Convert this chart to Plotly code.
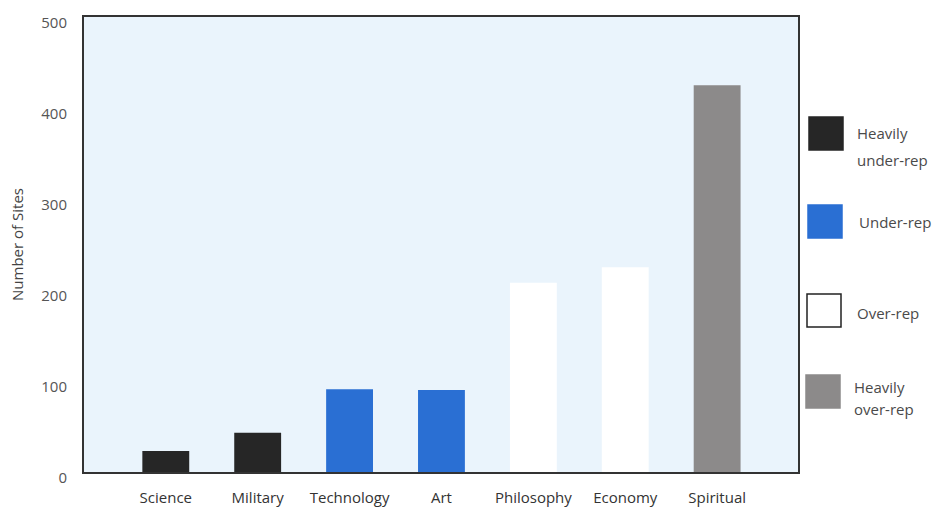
import plotly.graph_objects as go

categories = ["Science", "Military", "Technology", "Art", "Philosophy", "Economy", "Spiritual"]
values = [23, 43, 91, 90, 208, 225, 425]
groups = ["Heavily under-rep", "Heavily under-rep", "Under-rep", "Under-rep",
          "Over-rep", "Over-rep", "Heavily over-rep"]
group_names = ["Heavily under-rep", "Under-rep", "Over-rep", "Heavily over-rep"]
group_labels = ["Heavily<br>under-rep", "Under-rep", "Over-rep", "Heavily<br>over-rep"]
group_colors = {"Heavily under-rep": "#262626", "Under-rep": "#2a6fd3",
                "Over-rep": "#ffffff", "Heavily over-rep": "#8c8a8a"}
y_ticks = [0, 100, 200, 300, 400, 500]

W, H = 940, 512
L, R, T, B = 84, 798, 17, 472
FONT = "Open Sans"
TXT = "#4a4a4a"

fig = go.Figure()
fig.add_trace(go.Bar(
    x=categories, y=values,
    marker=dict(color=[group_colors[g] for g in groups], line=dict(width=0)),
    width=0.51, showlegend=False,
))

def pxx(x):
    return (x - L) / (R - L)

def pxy(y):
    return (B - y) / (B - T)

shapes = []
annotations = []
sq_tops = [117, 205, 294, 375]
sq_left = [809, 808, 807, 806]
line_y = [[133, 160], [222], [313], [387, 409]]
text_x = [855, 857, 855, 852]
for i, g in enumerate(group_names):
    x0, y0 = sq_left[i], sq_tops[i]
    shapes.append(dict(type="rect", xref="paper", yref="paper",
                       x0=pxx(x0), x1=pxx(x0 + 34), y0=pxy(y0 + 33), y1=pxy(y0),
                       fillcolor=group_colors[g],
                       line=dict(color="#222222" if g == "Over-rep" else group_colors[g], width=1.5)))
    for txt, ly in zip(group_labels[i].split("<br>"), line_y[i]):
        annotations.append(dict(xref="paper", yref="paper", x=pxx(text_x[i]), y=pxy(ly),
                                xanchor="left", yanchor="middle", text=txt, showarrow=False,
                                font=dict(family=FONT, size=15, color=TXT)))

fig.update_layout(
    width=W, height=H,
    margin=dict(l=L, r=W - R, t=T, b=H - B, autoexpand=False),
    paper_bgcolor="white", plot_bgcolor="#eaf4fc",
    font=dict(family=FONT, color=TXT, size=15),
    shapes=shapes, annotations=annotations,
    bargap=0.5,
)
fig.update_xaxes(range=[-0.89, 6.88], showline=True, linecolor="#333333", linewidth=2,
                 mirror=True, showgrid=False, ticks="", ticklabelstandoff=11, automargin=False,
                 tickfont=dict(family=FONT, size=15, color="#333333"))
fig.update_yaxes(range=[0, 500], tickvals=y_ticks, showline=True, linecolor="#333333",
                 linewidth=2, mirror=True, showgrid=False, zeroline=False, ticks="",
                 ticklabelstandoff=12, ticklabelshift=6, automargin=False,
                 tickfont=dict(family=FONT, size=15, color="#555555"),
                 title=dict(text="Number of Sites", standoff=14,
                            font=dict(family=FONT, size=15, color="#444444")))

fig.write_html("out.html")
